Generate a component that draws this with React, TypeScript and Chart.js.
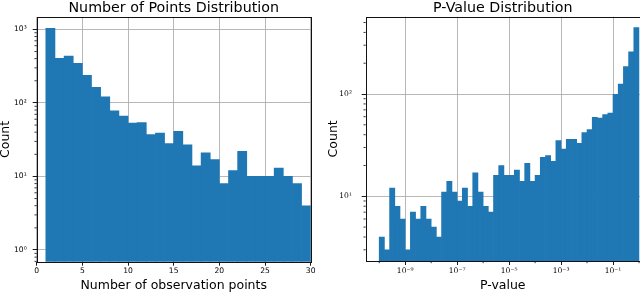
import React, { useEffect, useRef } from "react";
import { Chart, registerables } from "chart.js";

Chart.register(...registerables);

// ---------------- Data: Number of Points Distribution ----------------
// lower edge of each histogram bin (bin width 1)
const pointsBinStart = [1, 2, 3, 4, 5, 6, 7, 8, 9, 10, 11, 12, 13, 14, 15, 16, 17, 18, 19, 20, 21, 22, 23, 24, 25, 26, 27, 28, 29];
const pointsCounts = [1030, 404, 434, 345, 237, 163, 121, 78, 66, 53, 54, 37, 39, 28, 41, 27, 14, 21, 17, 8, 12, 22, 10, 10, 10, 13, 10, 8, 4];

const pointsXTicks = [0, 5, 10, 15, 20, 25, 30];
const pointsXTickLabels = ["0", "5", "10", "15", "20", "25", "30"];
const pointsYTicks = [1, 10, 100, 1000];
const pointsYTickLabels = ["10⁰", "10¹", "10²", "10³"];

// ---------------- Data: P-Value Distribution ----------------
// log10 of the lower edge of each bin (bin width 0.2 decades)
const pvalBinLogStart = [
  -10, -9.8, -9.6, -9.4, -9.2, -9, -8.8, -8.6, -8.4, -8.2,
  -8, -7.8, -7.6, -7.4, -7.2, -7, -6.8, -6.6, -6.4, -6.2,
  -6, -5.8, -5.6, -5.4, -5.2, -5, -4.8, -4.6, -4.4, -4.2,
  -4, -3.8, -3.6, -3.4, -3.2, -3, -2.8, -2.6, -2.4, -2.2,
  -2, -1.8, -1.6, -1.4, -1.2, -1, -0.8, -0.6, -0.4, -0.2,
];
const pvalCounts = [
  4, 3, 12, 8, 6, 3, 7, 6, 8, 6,
  5, 4, 11, 14, 11, 9, 12, 8, 17, 11,
  8, 7, 16, 20, 16, 16, 18, 14, 21, 14,
  16, 24, 25, 22, 35, 29, 36, 36, 33, 42,
  45, 59, 58, 63, 65, 99, 125, 185, 258, 445,
];
const pvalBinWidthLog = 0.2;

const pvalXTicks = [1e-9, 1e-7, 1e-5, 1e-3, 1e-1];
const pvalXTickLabels = ["10⁻⁹", "10⁻⁷", "10⁻⁵", "10⁻³", "10⁻¹"];
const pvalXMinorTicks = [1e-10, 1e-8, 1e-6, 1e-4, 1e-2, 1];
const pvalYTicks = [10, 100];
const pvalYTickLabels = ["10¹", "10²"];

// ---------------- styling ----------------
const BAR_COLOR = "#1f77b4";
const GRID_COLOR = "#b0b0b0";
const SANS = "'DejaVu Sans', sans-serif";
const SERIF = "'DejaVu Serif', serif";

Chart.defaults.font.family = SANS;
Chart.defaults.color = "#000";

function sameVal(a: number, b: number, log: boolean) {
  if (log) return Math.abs(Math.log10(a) - Math.log10(b)) < 1e-6;
  return Math.abs(a - b) < 1e-9;
}
function isIn(v: number, list: number[], log: boolean) {
  return list.some((m) => sameVal(v, m, log));
}
function labelFor(v: number, ticks: number[], labels: string[], log: boolean) {
  const i = ticks.findIndex((m) => sameVal(v, m, log));
  return i >= 0 ? labels[i] : "";
}
function logMinors(min: number, max: number) {
  const out: number[] = [];
  for (let d = Math.floor(Math.log10(min)); d <= Math.ceil(Math.log10(max)); d++) {
    for (let k = 2; k <= 9; k++) {
      const v = k * Math.pow(10, d);
      if (v >= min && v <= max) out.push(v);
    }
  }
  return out;
}

function framePlugin(xMajors: number[], xLog: boolean, yMajors: number[], yLog: boolean) {
  return {
    id: "frameAndMinorTicks",
    afterDraw(chart: any) {
      const { ctx, chartArea: a } = chart;
      ctx.save();
      ctx.strokeStyle = "#000";
      ctx.lineWidth = 0.8;
      const xs = chart.scales.x;
      xs.ticks.forEach((t: any) => {
        if (isIn(t.value, xMajors, xLog)) return;
        const p = xs.getPixelForValue(t.value);
        ctx.beginPath();
        ctx.moveTo(p, a.bottom);
        ctx.lineTo(p, a.bottom + 2.2);
        ctx.stroke();
      });
      const ys = chart.scales.y;
      ys.ticks.forEach((t: any) => {
        if (isIn(t.value, yMajors, yLog)) return;
        const p = ys.getPixelForValue(t.value);
        ctx.beginPath();
        ctx.moveTo(a.left, p);
        ctx.lineTo(a.left - 2.2, p);
        ctx.stroke();
      });
      ctx.lineWidth = 1;
      ctx.strokeStyle = "#111";
      ctx.strokeRect(
        Math.round(a.left) + 0.5,
        Math.round(a.top) + 0.5,
        Math.round(a.right) - Math.round(a.left),
        Math.round(a.bottom) - Math.round(a.top)
      );
      ctx.restore();
    },
  };
}

const TITLE_FONT = { size: 14.25, lineHeight: 1.2, family: SANS, weight: "normal" };
const AXIS_TITLE_FONT_X = { size: 12.5, lineHeight: 1.2, family: SANS, weight: "normal" };
const AXIS_TITLE_FONT_Y = { size: 12.5, lineHeight: 0.9, family: SANS, weight: "normal" };

function pointsConfig(): any {
  const yMin = 0.693;
  const yMax = 1469;
  const yMinors = logMinors(yMin, yMax).filter((v) => !isIn(v, pointsYTicks, true));
  return {
    type: "bar",
    data: {
      datasets: [
        {
          data: pointsBinStart.map((s, i) => ({ x: s + 0.5, y: pointsCounts[i] })),
          backgroundColor: BAR_COLOR,
          borderWidth: 0,
          barPercentage: 1,
          categoryPercentage: 1,
        },
      ],
    },
    options: {
      responsive: false,
      animation: false,
      events: [],
      layout: { padding: { left: 0, right: 9.3, top: 0, bottom: 0 } },
      plugins: {
        legend: { display: false },
        tooltip: { enabled: false },
        title: {
          display: true,
          fullSize: false,
          align: "center",
          text: "Number of Points Distribution",
          font: TITLE_FONT,
          color: "#000",
          padding: { top: 0, bottom: 0 },
        },
      },
      scales: {
        x: {
          type: "linear",
          min: 0,
          max: 30,
          offset: false,
          z: 1,
          border: { display: false },
          grid: { offset: false, color: GRID_COLOR, lineWidth: 0.9, tickLength: 4, tickColor: "#000" },
          afterBuildTicks: (s: any) => {
            s.ticks = pointsXTicks.map((v) => ({ value: v }));
          },
          afterFit: (s: any) => {
            s.height = 31.3;
          },
          ticks: {
            autoSkip: false,
            maxRotation: 0,
            padding: 1,
            font: { size: 7.6, family: SANS },
            callback: (v: number) => labelFor(v, pointsXTicks, pointsXTickLabels, false),
          },
          title: { display: true, text: "Number of observation points", font: AXIS_TITLE_FONT_X, padding: { top: 0, bottom: 0 } },
        },
        y: {
          type: "logarithmic",
          min: yMin,
          max: yMax,
          z: 1,
          border: { display: false },
          grid: {
            color: (c: any) => (c.tick && isIn(c.tick.value, pointsYTicks, true) ? GRID_COLOR : "rgba(0,0,0,0)"),
            tickColor: (c: any) => (c.tick && isIn(c.tick.value, pointsYTicks, true) ? "#000" : "rgba(0,0,0,0)"),
            lineWidth: 0.9,
            tickLength: 4,
          },
          afterBuildTicks: (s: any) => {
            s.ticks = [...pointsYTicks, ...yMinors].sort((a, b) => a - b).map((v) => ({ value: v }));
          },
          afterFit: (s: any) => {
            s.width = 36.7;
          },
          ticks: {
            autoSkip: false,
            padding: 6,
            font: { size: 7.6, family: SANS },
            callback: (v: number) => labelFor(v, pointsYTicks, pointsYTickLabels, true),
          },
          title: { display: true, text: "Count", font: AXIS_TITLE_FONT_Y, padding: { top: 0, bottom: 0 } },
        },
      },
    },
    plugins: [framePlugin(pointsXTicks, false, pointsYTicks, true)],
  };
}

function pvalConfig(): any {
  const xMin = Math.pow(10, -10.52);
  const xMax = Math.pow(10, 0.03);
  const yMin = 2.331;
  const yMax = 569.7;
  const yMinors = logMinors(yMin, yMax).filter((v) => !isIn(v, pvalYTicks, true));
  return {
    type: "bar",
    data: {
      datasets: [
        {
          data: pvalBinLogStart.map((s, i) => ({ x: Math.pow(10, s + pvalBinWidthLog / 2), y: pvalCounts[i] })),
          backgroundColor: BAR_COLOR,
          borderWidth: 0,
          barPercentage: 1,
          categoryPercentage: 1,
        },
      ],
    },
    options: {
      responsive: false,
      animation: false,
      events: [],
      layout: { padding: { left: 0, right: 0, top: 0, bottom: 0 } },
      plugins: {
        legend: { display: false },
        tooltip: { enabled: false },
        title: {
          display: true,
          fullSize: false,
          align: "center",
          text: "P-Value Distribution",
          font: TITLE_FONT,
          color: "#000",
          padding: { top: 0, bottom: -0.4 },
        },
      },
      scales: {
        x: {
          type: "logarithmic",
          min: xMin,
          max: xMax,
          offset: false,
          z: 1,
          border: { display: false },
          grid: {
            offset: false,
            color: (c: any) => (c.tick && isIn(c.tick.value, pvalXTicks, true) ? GRID_COLOR : "rgba(0,0,0,0)"),
            tickColor: (c: any) => (c.tick && isIn(c.tick.value, pvalXTicks, true) ? "#000" : "rgba(0,0,0,0)"),
            lineWidth: 0.9,
            tickLength: 4,
          },
          afterBuildTicks: (s: any) => {
            s.ticks = [...pvalXTicks, ...pvalXMinorTicks.filter((v) => v >= xMin && v <= xMax)]
              .sort((a, b) => a - b)
              .map((v) => ({ value: v }));
          },
          afterFit: (s: any) => {
            s.height = 32;
          },
          ticks: {
            autoSkip: false,
            maxRotation: 0,
            padding: 1,
            font: { size: 7.6, family: SERIF },
            callback: (v: number) => labelFor(v, pvalXTicks, pvalXTickLabels, true),
          },
          title: { display: true, text: "P-value", font: AXIS_TITLE_FONT_X, padding: { top: 0, bottom: 0 } },
        },
        y: {
          type: "logarithmic",
          min: yMin,
          max: yMax,
          z: 1,
          border: { display: false },
          grid: {
            color: (c: any) => (c.tick && isIn(c.tick.value, pvalYTicks, true) ? GRID_COLOR : "rgba(0,0,0,0)"),
            tickColor: (c: any) => (c.tick && isIn(c.tick.value, pvalYTicks, true) ? "#000" : "rgba(0,0,0,0)"),
            lineWidth: 0.9,
            tickLength: 4,
          },
          afterBuildTicks: (s: any) => {
            s.ticks = [...pvalYTicks, ...yMinors].sort((a, b) => a - b).map((v) => ({ value: v }));
          },
          afterFit: (s: any) => {
            s.width = 45.7;
          },
          ticks: {
            autoSkip: false,
            padding: 9.7,
            font: { size: 7.6, family: SERIF },
            callback: (v: number) => labelFor(v, pvalYTicks, pvalYTickLabels, true),
          },
          title: { display: true, text: "Count", font: AXIS_TITLE_FONT_Y, padding: { top: 7.9, bottom: 0 } },
        },
      },
    },
    plugins: [framePlugin(pvalXTicks, true, pvalYTicks, true)],
  };
}

function ChartCanvas({ makeConfig, left }: { makeConfig: () => any; left: number }) {
  const ref = useRef<HTMLCanvasElement | null>(null);
  useEffect(() => {
    if (!ref.current) return;
    const chart = new Chart(ref.current, makeConfig());
    return () => chart.destroy();
  }, [makeConfig]);
  return (
    <canvas
      ref={ref}
      width={320}
      height={293}
      style={{ position: "absolute", left, top: 0, width: 320, height: 293 }}
    />
  );
}

export default function App() {
  return (
    <div
      style={{
        position: "fixed",
        left: 0,
        top: 0,
        width: 640,
        height: 293,
        overflow: "hidden",
        background: "#fff",
      }}
    >
      <ChartCanvas makeConfig={pointsConfig} left={0} />
      <ChartCanvas makeConfig={pvalConfig} left={320} />
    </div>
  );
}
